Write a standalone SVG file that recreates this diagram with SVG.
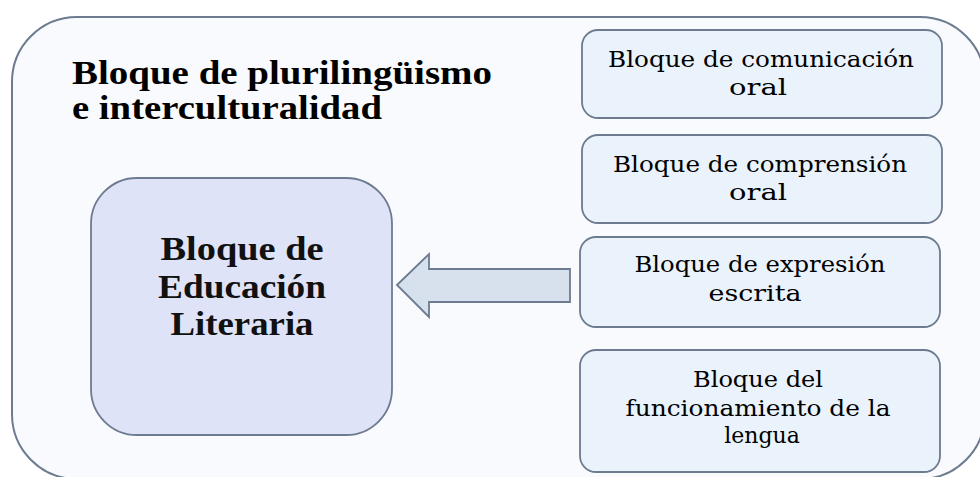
<svg xmlns="http://www.w3.org/2000/svg" width="980" height="477" viewBox="0 0 980 477">
<style>
.title{font-family:"Liberation Serif","Times New Roman",serif;font-weight:bold;font-size:33px;fill:#000}
.lit{font-family:"Liberation Serif","Times New Roman",serif;font-weight:bold;font-size:34px;fill:#111;text-anchor:middle}
.blk{font-family:"DejaVu Serif",serif;font-size:22px;fill:#000;text-anchor:middle}
.side{fill:#eaf2fb;stroke:#6d7b90;stroke-width:1.8}
.arrow{fill:#d7e1ee;stroke:#6d7b90;stroke-width:1.8;stroke-linejoin:miter}
</style>
<rect width="980" height="477" fill="#ffffff"/>
<g id="frame">
<rect x="12" y="17" width="973" height="462" rx="65" ry="65" fill="#f9fafe" stroke="#6d7b90" stroke-width="2"/>
<text class="title" x="72" y="84" textLength="420" lengthAdjust="spacingAndGlyphs">Bloque de plurilingüismo</text>
<text class="title" x="72" y="119" textLength="310" lengthAdjust="spacingAndGlyphs">e interculturalidad</text>
</g>
<g id="literaria">
<rect x="91" y="178" width="301" height="257" rx="46" ry="46" fill="#dfe3f8" stroke="#6d7b90" stroke-width="1.8"/>
<text class="lit" x="242" y="260" textLength="163" lengthAdjust="spacingAndGlyphs">Bloque de</text>
<text class="lit" x="242" y="298" textLength="168" lengthAdjust="spacingAndGlyphs">Educación</text>
<text class="lit" x="242" y="335" textLength="143" lengthAdjust="spacingAndGlyphs">Literaria</text>
</g>
<g id="comunicacion">
<rect class="side" x="582" y="30" width="360" height="88" rx="16" ry="16"/>
<text class="blk" x="761" y="67" textLength="306" lengthAdjust="spacingAndGlyphs">Bloque de comunicación</text>
<text class="blk" x="758" y="95" textLength="58" lengthAdjust="spacingAndGlyphs">oral</text>
</g>
<g id="comprension">
<rect class="side" x="582" y="135" width="360" height="88" rx="16" ry="16"/>
<text class="blk" x="760" y="172" textLength="294" lengthAdjust="spacingAndGlyphs">Bloque de comprensión</text>
<text class="blk" x="758" y="200" textLength="58" lengthAdjust="spacingAndGlyphs">oral</text>
</g>
<g id="expresion">
<rect class="side" x="580" y="237" width="360" height="90" rx="16" ry="16"/>
<text class="blk" x="760" y="272" textLength="251" lengthAdjust="spacingAndGlyphs">Bloque de expresión</text>
<text class="blk" x="755" y="301" textLength="93" lengthAdjust="spacingAndGlyphs">escrita</text>
</g>
<g id="funcionamiento">
<rect class="side" x="580" y="350" width="360" height="122" rx="16" ry="16"/>
<text class="blk" x="758" y="387" textLength="130" lengthAdjust="spacingAndGlyphs">Bloque del</text>
<text class="blk" x="758" y="416" textLength="265" lengthAdjust="spacingAndGlyphs">funcionamiento de la</text>
<text class="blk" x="762" y="443">lengua</text>
</g>
<g id="connectors">
<polygon class="arrow" points="397,285 429,254 429,269 570,269 570,302 429,302 429,317"/>
</g>
</svg>
